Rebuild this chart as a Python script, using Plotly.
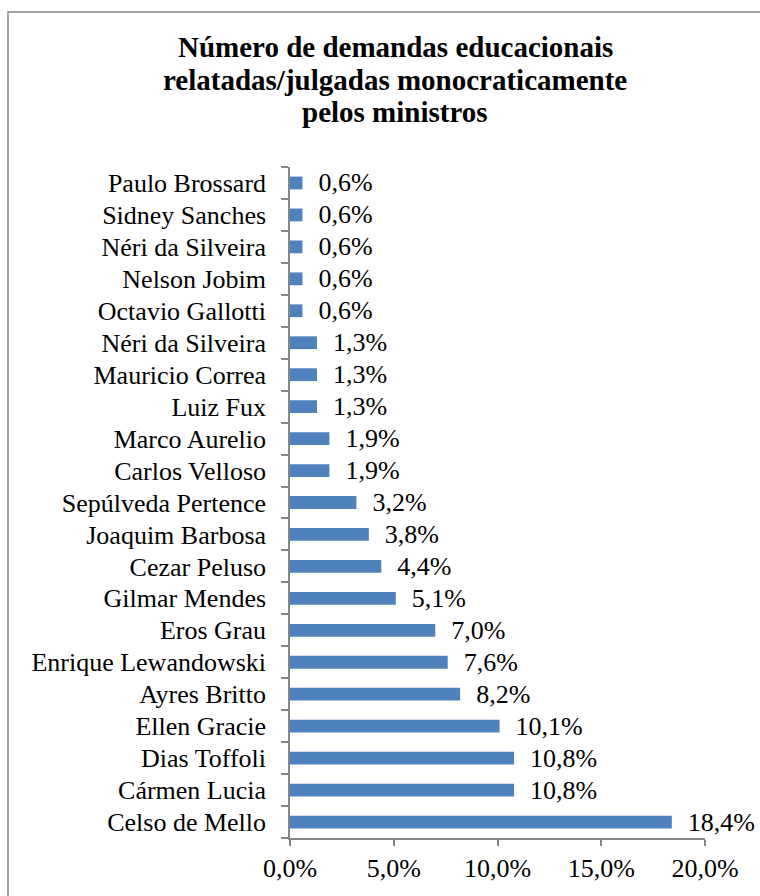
import plotly.graph_objects as go

# Categories listed bottom to top (plotly category axis starts at bottom)
ministros = [
    "Celso de Mello", "Cármen Lucia", "Dias Toffoli", "Ellen Gracie", "Ayres Britto",
    "Enrique Lewandowski", "Eros Grau", "Gilmar Mendes", "Cezar Peluso", "Joaquim Barbosa",
    "Sepúlveda Pertence", "Carlos Velloso", "Marco Aurelio", "Luiz Fux", "Mauricio Correa",
    "Néri da Silveira", "Octavio Gallotti", "Nelson Jobim", "Néri da Silveira\u200b",
    "Sidney Sanches", "Paulo Brossard",
]
percentuais = [
    0.184, 0.108, 0.108, 0.101, 0.082,
    0.076, 0.070, 0.051, 0.044, 0.038,
    0.032, 0.019, 0.019, 0.013, 0.013,
    0.013, 0.006, 0.006, 0.006,
    0.006, 0.006,
]
x_ticks = [0, 0.05, 0.10, 0.15, 0.20]
title_lines = [
    "Número de demandas educacionais",
    "relatadas/julgadas monocraticamente",
    "pelos ministros",
]

FONT = "Liberation Serif, Times New Roman, serif"
GRAY = "#868686"
FS = 26

fig = go.Figure(go.Bar(
    x=percentuais, y=ministros, orientation="h",
    marker=dict(color="#4F81BD", line=dict(width=0)),
    width=0.4,
    texttemplate="\u00a0\u00a0%{x:.1%}",
    textposition="outside",
    constraintext="none",
    textfont=dict(family=FONT, size=FS, color="black"),
    cliponaxis=False,
))

L, R, T, B = 290, 705, 167, 838
W, H = 760, 896
pw, ph = R - L, B - T

fig.update_layout(
    width=W, height=H,
    margin=dict(l=L, r=W - R, t=T, b=H - B, autoexpand=False),
    separators=",.",
    paper_bgcolor="white", plot_bgcolor="white",
    font=dict(family=FONT, size=FS, color="black"),
    showlegend=False,
    xaxis=dict(
        range=[0, 0.2], tickvals=x_ticks, tickformat=".1%",
        showgrid=False, zeroline=False,
        showline=True, linecolor=GRAY, linewidth=1.5,
        ticks="outside", ticklen=6, tickcolor=GRAY, tickwidth=1.5,
        tickfont=dict(family=FONT, size=FS, color="black"),
    ),
    yaxis=dict(
        type="category", categoryorder="array", categoryarray=ministros,
        range=[-0.5, len(ministros) - 0.5],
        showgrid=False, zeroline=False,
        showline=True, linecolor=GRAY, linewidth=1.5,
        ticks="outside", tickson="boundaries", ticklen=7, tickcolor=GRAY, tickwidth=1.5,
        ticklabelstandoff=17,
        tickfont=dict(family=FONT, size=FS, color="black"),
    ),
)

# title, one line per annotation to match the tight line spacing
for i, line in enumerate(title_lines):
    py = 47 + 32.5 * i
    fig.add_annotation(
        text=f"<b>{line}</b>", showarrow=False,
        xref="paper", yref="paper",
        x=(395 - L) / pw, y=(B - py) / ph,
        xanchor="center", yanchor="middle",
        font=dict(family=FONT, size=29, color="black"),
    )

# chart frame
fig.add_shape(
    type="rect", xref="paper", yref="paper",
    x0=(8 - L) / pw, x1=(782 - L) / pw,
    y0=(B - 900) / ph, y1=(B - 12) / ph,
    line=dict(color=GRAY, width=1.5), fillcolor="rgba(0,0,0,0)", layer="below",
)

fig.write_html("out.html")
